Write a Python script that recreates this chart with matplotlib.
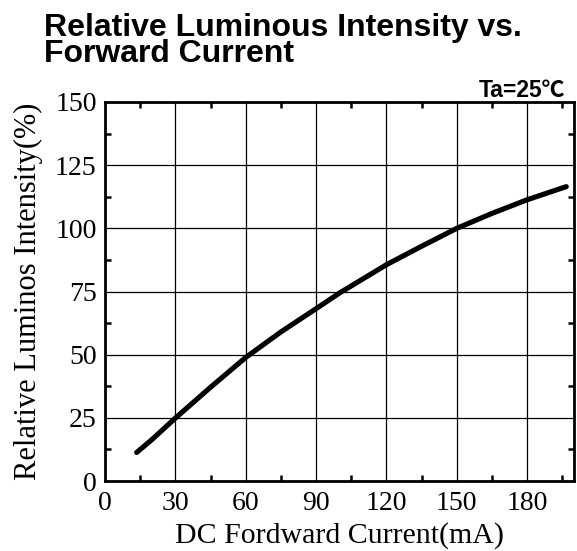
import matplotlib
matplotlib.use("Agg")
import matplotlib.pyplot as plt
from matplotlib.ticker import MultipleLocator

current_mA = [13.5, 20, 30, 45, 60, 75, 90, 100, 120, 135, 150, 165, 180, 196.7]
intensity_pct = [11.3, 16.4, 24.9, 37.1, 48.9, 59.0, 68.2, 74.4, 85.6, 92.9, 100.0, 105.9, 111.3, 116.5]
x_ticks = [0, 30, 60, 90, 120, 150, 180]
y_ticks = [0, 25, 50, 75, 100, 125, 150]

fig = plt.figure(figsize=(5.77, 5.51), dpi=100)
ax = fig.add_axes([0.182, 0.127, 0.8128, 0.6879])

ax.plot(current_mA, intensity_pct, color="black", lw=3.7,
        solid_capstyle="round", solid_joinstyle="round")
ax.set_xlim(0, 200)
ax.set_ylim(0, 150)
ax.set_xticks(x_ticks)
ax.set_yticks(y_ticks)
ax.xaxis.set_minor_locator(MultipleLocator(15))
ax.yaxis.set_minor_locator(MultipleLocator(12.5))
ax.grid(True, which="major", color="black", lw=0.9)
ax.tick_params(which="both", direction="in", top=True, right=True, color="black")
ax.tick_params(which="major", length=0)
ax.tick_params(which="minor", length=4, width=1.8)
ax.tick_params(axis="x", which="major", labelsize=20, pad=7)
ax.tick_params(axis="y", which="major", labelsize=20, pad=6)
for s in ax.spines.values():
    s.set_linewidth(2)
serif = "Liberation Serif"
for lab in ax.get_xticklabels() + ax.get_yticklabels():
    lab.set_fontfamily(serif)
ax.set_xlabel("DC Fordward Current(mA)", fontsize=21.5, family=serif)
ax.set_ylabel("Relative Luminos Intensity(%)", fontsize=22, family=serif)
ax.xaxis.set_label_coords(0.5, -0.108)
ax.yaxis.set_label_coords(-0.133, 0.5)

fig.text(0.077, 1 - 61.7 / 551, "Relative Luminous Intensity vs.\nForward Current",
         fontsize=23, fontweight="bold", family="Liberation Sans",
         ha="left", va="baseline", linespacing=0.80)
fig.text(565 / 577, 1 - 96.7 / 551, "Ta=25℃", fontsize=16.5, fontweight="bold",
         family=["Liberation Sans", "Noto Sans CJK JP", "DejaVu Sans"],
         ha="right", va="baseline")

fig.savefig("out.png", dpi=100)
